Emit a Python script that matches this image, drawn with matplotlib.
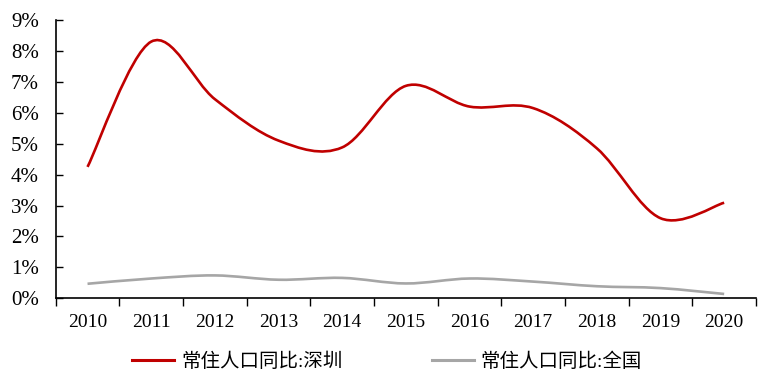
import matplotlib
matplotlib.use('Agg')
import matplotlib.pyplot as plt
from matplotlib.path import Path
from matplotlib.patches import PathPatch
from matplotlib.lines import Line2D
from matplotlib.ticker import FixedLocator, NullFormatter, FuncFormatter

# ─── DATA ────────────────────────────────────────────────────────
years = ['2010', '2011', '2012', '2013', '2014', '2015',
         '2016', '2017', '2018', '2019', '2020']
shenzhen = [4.25, 8.3, 6.44, 5.1, 4.88, 6.87, 6.2, 6.15, 4.85, 2.59, 3.09]
national = [0.47, 0.64, 0.74, 0.60, 0.66, 0.48, 0.64, 0.54, 0.39, 0.33, 0.14]
label_sz = '常住人口同比:深圳'
label_cn = '常住人口同比:全国'

RED = '#C00000'
GREY = '#A6A6A6'
LATIN = 'Liberation Serif'
CJK = ['Liberation Serif', 'Noto Sans CJK SC']


def smooth_path(xs, ys):
    # Excel-style smoothed line: cubic Bezier through every point
    n = len(xs)
    verts = [(xs[0], ys[0])]
    codes = [Path.MOVETO]
    for i in range(n - 1):
        p0 = max(i - 1, 0)
        p3 = min(i + 2, n - 1)
        c1 = (xs[i] + (xs[i + 1] - xs[p0]) / 6, ys[i] + (ys[i + 1] - ys[p0]) / 6)
        c2 = (xs[i + 1] - (xs[p3] - xs[i]) / 6, ys[i + 1] - (ys[p3] - ys[i]) / 6)
        verts += [c1, c2, (xs[i + 1], ys[i + 1])]
        codes += [Path.CURVE4] * 3
    return Path(verts, codes)


fig = plt.figure(figsize=(7.64, 3.81), dpi=100)
ax = fig.add_axes([55.7 / 764, 1 - 298.3 / 381, (756 - 55.7) / 764, (298.3 - 20) / 381])

x = list(range(len(years)))
for vals, col in [(national, GREY), (shenzhen, RED)]:
    ax.add_patch(PathPatch(smooth_path(x, vals), facecolor='none',
                           edgecolor=col, linewidth=1.9, capstyle='butt'))

ax.set_xlim(-0.5, len(years) - 0.5)
ax.set_ylim(0, 9)

# category axis: ticks at boundaries, labels at centers
ax.xaxis.set_major_locator(FixedLocator([i - 0.5 for i in range(len(years) + 1)]))
ax.xaxis.set_major_formatter(NullFormatter())
ax.xaxis.set_minor_locator(FixedLocator(x))
ax.set_xticklabels(years, minor=True, fontfamily=LATIN, fontsize=14)
ax.tick_params(axis='x', which='major', direction='out', length=6, width=1, color='black')
ax.tick_params(axis='x', which='minor', length=0, pad=11)

ax.set_yticks(range(0, 10))
ax.yaxis.set_major_formatter(FuncFormatter(lambda v, p: f'{int(v)}%'))
ax.tick_params(axis='y', direction='in', length=5, width=1, pad=12)
for t in ax.get_yticklabels():
    t.set_fontfamily(LATIN)
    t.set_fontsize(15)

for s in ['top', 'right']:
    ax.spines[s].set_visible(False)
for s in ['left', 'bottom']:
    ax.spines[s].set_linewidth(1.2)
    ax.spines[s].set_color('black')

handles = [Line2D([], [], color=RED, linewidth=2.2),
           Line2D([], [], color=GREY, linewidth=2.2)]
fig.legend(handles, [label_sz, label_cn], loc='center', bbox_to_anchor=(387 / 764, 1 - 362 / 381),
           ncol=2, frameon=False, prop={'family': CJK, 'size': 14},
           handlelength=2.16, handletextpad=0.36, columnspacing=4.6)

fig.savefig('out.png', dpi=100, facecolor='white')
